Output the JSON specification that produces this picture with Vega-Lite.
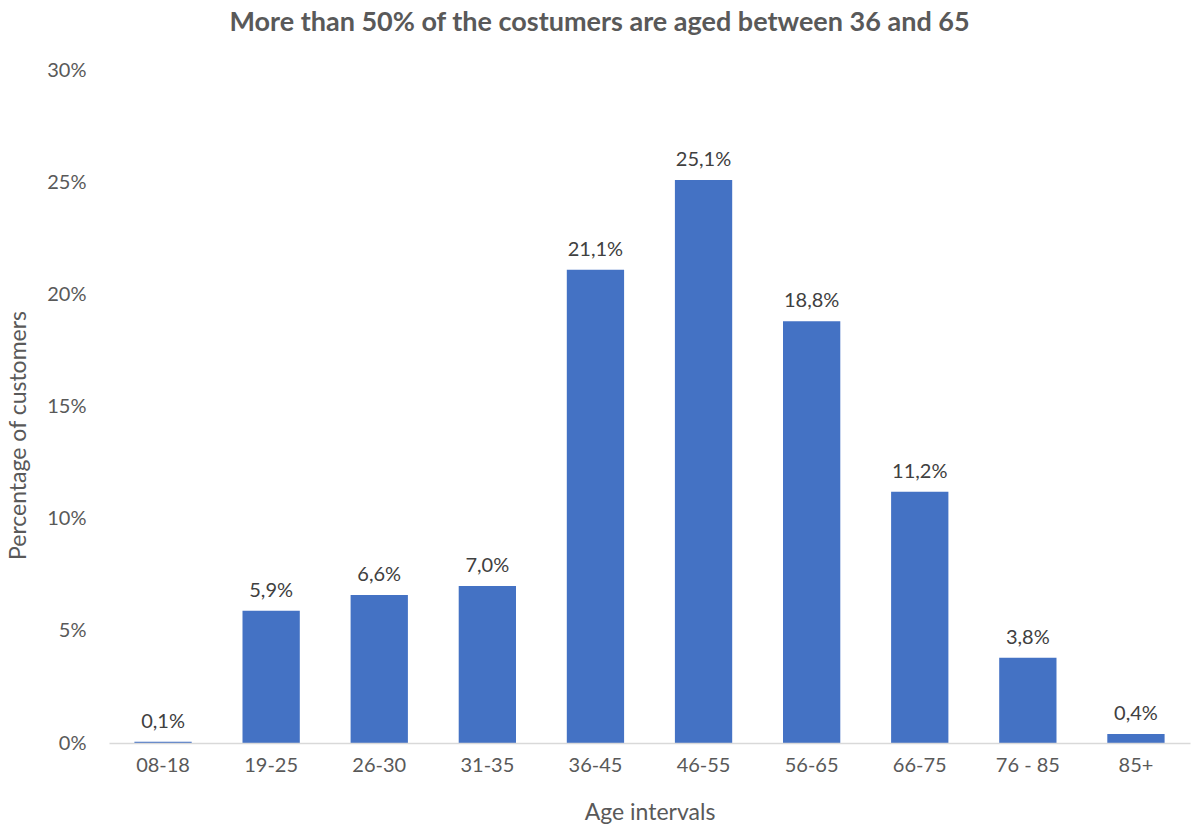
{
  "$schema": "https://vega.github.io/schema/vega-lite/v6.json",
  "width": 1081,
  "height": 673,
  "autosize": "none",
  "padding": {"left": 109, "top": 70, "right": 3, "bottom": 82},
  "title": {
    "text": "More than 50% of the costumers are aged between 36 and 65",
    "anchor": "middle",
    "font": "Lato",
    "fontSize": 27,
    "fontWeight": "bold",
    "color": "#595959",
    "offset": 23,
    "dx": -50
  },
  "data": {
    "values": [
      {"age": "08-18", "pct": 0.0006},
      {"age": "19-25", "pct": 0.059},
      {"age": "26-30", "pct": 0.066},
      {"age": "31-35", "pct": 0.070},
      {"age": "36-45", "pct": 0.211},
      {"age": "46-55", "pct": 0.251},
      {"age": "56-65", "pct": 0.188},
      {"age": "66-75", "pct": 0.112},
      {"age": "76 - 85", "pct": 0.038},
      {"age": "85+", "pct": 0.004}
    ]
  },
  "encoding": {
    "x": {
      "field": "age",
      "type": "nominal",
      "sort": null,
      "scale": {"paddingInner": 0.47, "paddingOuter": 0.235},
      "axis": {
        "title": "Age intervals",
        "labelAngle": 0,
        "ticks": false,
        "domainColor": "#D9D9D9",
        "domainWidth": 1.5,
        "labelPadding": 12,
        "titleY": 69,
        "titleBaseline": "middle",
        "zindex": 1
      }
    },
    "y": {
      "field": "pct",
      "type": "quantitative",
      "scale": {"domain": [0, 0.3], "nice": false},
      "axis": {
        "title": "Percentage of customers",
        "values": [0, 0.05, 0.1, 0.15, 0.2, 0.25, 0.3],
        "format": ".0%",
        "ticks": false,
        "domain": false,
        "grid": false,
        "labelPadding": 23,
        "titleX": -79,
        "titleY": 365
      }
    }
  },
  "layer": [
    {"mark": {"type": "bar", "color": "#4472C4"}},
    {
      "mark": {"type": "text", "baseline": "bottom", "dy": -10, "font": "Lato", "fontSize": 20, "color": "#404040"},
      "encoding": {"text": {"field": "pct", "type": "quantitative", "format": ".1%"}}
    }
  ],
  "config": {
    "locale": {"number": {"decimal": ",", "thousands": ".", "grouping": [3], "currency": ["", " €"]}},
    "view": {"stroke": null},
    "axis": {
      "labelFont": "Lato",
      "labelFontSize": 20,
      "labelColor": "#595959",
      "titleFont": "Lato",
      "titleFontSize": 23,
      "titleFontWeight": "normal",
      "titleColor": "#595959"
    }
  }
}
